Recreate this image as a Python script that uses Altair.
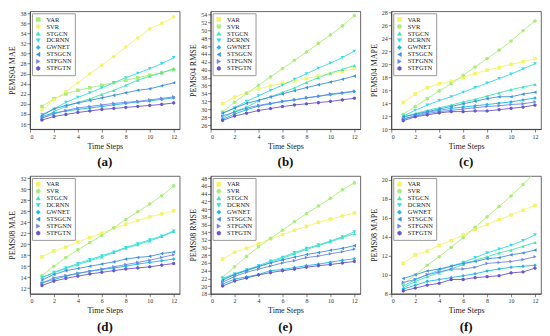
import altair as alt
import pandas as pd

STEPS = list(range(1, 13))
MODELS = ["VAR", "SVR", "STGCN", "DCRNN", "GWNET", "STSGCN", "STFGNN", "STFGTN"]

PEMS04_MAE = {
    "VAR":    [19.5, 21.0, 22.0, 22.7, 23.2, 23.7, 24.2, 24.7, 25.2, 25.7, 26.2, 26.8],
    "SVR":    [18.8, 20.8, 22.5, 24.2, 26.0, 27.7, 29.4, 31.3, 33.1, 34.9, 36.0, 37.3],
    "STGCN":  [17.0, 18.5, 19.5, 20.3, 21.0, 21.9, 22.7, 23.7, 24.7, 25.5, 26.2, 27.0],
    "DCRNN":  [17.9, 19.0, 20.3, 21.3, 22.2, 23.2, 24.2, 25.2, 26.1, 27.0, 28.0, 29.2],
    "GWNET":  [17.5, 18.2, 18.6, 18.9, 19.2, 19.5, 19.8, 20.1, 20.4, 20.6, 20.9, 21.2],
    "STSGCN": [17.7, 19.0, 19.7, 20.2, 20.7, 21.2, 21.7, 22.2, 22.7, 23.0, 23.6, 24.2],
    "STFGNN": [17.2, 18.0, 18.7, 19.2, 19.5, 19.8, 20.1, 20.3, 20.5, 20.8, 21.1, 21.4],
    "STFGTN": [16.8, 17.5, 17.9, 18.3, 18.6, 18.9, 19.1, 19.3, 19.5, 19.7, 19.9, 20.2],
}
PEMS04_RMSE = {
    "VAR":    [31.4, 33.1, 34.2, 35.2, 35.9, 36.6, 37.2, 37.8, 38.4, 39.0, 39.6, 40.4],
    "SVR":    [29.4, 31.8, 34.0, 36.1, 38.2, 40.3, 42.4, 44.5, 46.7, 48.8, 51.1, 53.7],
    "STGCN":  [27.8, 29.5, 30.5, 32.2, 33.2, 34.3, 35.4, 36.8, 38.0, 39.2, 40.1, 41.1],
    "DCRNN":  [29.0, 30.4, 32.0, 33.4, 34.8, 36.1, 37.6, 39.0, 40.4, 41.7, 43.1, 44.7],
    "GWNET":  [27.5, 28.8, 29.9, 30.8, 31.4, 32.0, 32.4, 32.9, 33.3, 33.7, 34.1, 34.5],
    "STSGCN": [29.0, 30.3, 31.5, 32.3, 33.1, 33.9, 34.7, 35.5, 36.2, 36.9, 37.6, 38.4],
    "STFGNN": [28.3, 29.3, 30.3, 31.0, 31.5, 32.0, 32.4, 32.9, 33.3, 33.9, 34.2, 34.6],
    "STFGTN": [27.2, 28.3, 29.0, 29.7, 30.2, 30.7, 31.1, 31.4, 31.7, 32.0, 32.4, 32.8],
}
PEMS04_MAPE = {
    "VAR":    [14.1, 15.4, 16.4, 17.0, 17.4, 18.0, 18.6, 19.1, 19.5, 20.0, 20.4, 20.9],
    "SVR":    [12.3, 13.5, 14.7, 15.9, 17.0, 18.3, 19.6, 20.9, 22.2, 23.6, 25.2, 26.7],
    "STGCN":  [11.8, 12.4, 12.9, 13.3, 13.7, 14.2, 14.6, 15.1, 15.6, 16.1, 16.5, 16.9],
    "DCRNN":  [12.0, 12.9, 13.7, 14.4, 15.0, 15.7, 16.4, 17.1, 17.8, 18.5, 19.3, 20.1],
    "GWNET":  [11.5, 12.1, 12.6, 12.9, 13.2, 13.4, 13.6, 13.8, 14.0, 14.2, 14.5, 14.8],
    "STSGCN": [11.9, 12.3, 12.7, 13.1, 13.5, 13.9, 14.3, 14.7, 15.0, 15.0, 15.4, 15.7],
    "STFGNN": [11.6, 12.0, 12.4, 12.7, 12.9, 13.1, 13.3, 13.5, 13.6, 13.8, 13.9, 14.2],
    "STFGTN": [11.3, 11.9, 12.2, 12.5, 12.7, 12.7, 12.8, 12.8, 13.0, 13.2, 13.4, 13.7],
}
PEMS08_MAE = {
    "VAR":    [17.7, 18.8, 19.5, 20.4, 21.2, 22.0, 22.9, 23.6, 24.3, 25.0, 25.5, 26.1],
    "SVR":    [14.3, 16.0, 17.6, 19.0, 20.3, 21.6, 23.0, 24.5, 25.9, 27.3, 28.8, 30.6],
    "STGCN":  [14.0, 14.8, 15.6, 16.3, 17.0, 17.7, 18.5, 19.3, 19.9, 20.6, 21.4, 22.3],
    "DCRNN":  [13.9, 14.9, 15.7, 16.5, 17.2, 17.9, 18.6, 19.4, 20.1, 20.8, 21.5, 22.4],
    "GWNET":  [13.0, 13.6, 14.2, 14.7, 15.1, 15.4, 15.7, 16.0, 16.4, 16.7, 17.0, 17.3],
    "STSGCN": [13.5, 14.5, 15.2, 15.6, 16.0, 16.4, 16.8, 17.3, 17.6, 17.8, 18.3, 18.6],
    "STFGNN": [12.9, 13.9, 14.3, 14.7, 15.1, 15.5, 15.9, 16.3, 16.7, 17.1, 17.6, 18.1],
    "STFGTN": [12.5, 13.3, 13.8, 14.2, 14.6, 14.9, 15.2, 15.5, 15.7, 15.9, 16.2, 16.5],
}
PEMS08_RMSE = {
    "VAR":    [27.0, 28.8, 29.8, 31.0, 32.3, 33.4, 34.5, 35.5, 36.6, 37.4, 38.2, 39.0],
    "SVR":    [22.3, 25.0, 27.7, 30.2, 32.4, 34.5, 36.7, 38.8, 40.8, 42.8, 45.0, 46.8],
    "STGCN":  [21.8, 23.0, 24.0, 25.0, 26.2, 27.2, 28.4, 29.5, 30.5, 31.5, 32.6, 33.6],
    "DCRNN":  [22.0, 23.2, 24.2, 25.3, 26.5, 27.5, 28.7, 29.8, 30.7, 31.7, 32.8, 34.1],
    "GWNET":  [20.5, 21.8, 22.4, 23.0, 24.0, 24.3, 24.8, 25.3, 25.7, 26.2, 26.7, 27.1],
    "STSGCN": [21.5, 23.0, 24.1, 25.1, 26.0, 26.8, 27.5, 28.2, 28.7, 29.3, 29.8, 30.5],
    "STFGNN": [21.0, 22.5, 23.6, 24.4, 25.2, 26.0, 26.6, 27.4, 27.8, 28.4, 28.9, 29.6],
    "STFGTN": [20.0, 21.3, 22.1, 22.9, 23.5, 24.0, 24.4, 24.9, 25.3, 25.6, 26.0, 26.4],
}
PEMS08_MAPE = {
    "VAR":    [11.2, 12.1, 12.5, 13.1, 13.6, 14.2, 14.8, 15.3, 15.8, 16.3, 16.8, 17.3],
    "SVR":    [9.0, 10.0, 11.0, 11.9, 12.9, 13.9, 15.0, 16.1, 17.2, 18.3, 19.5, 20.8],
    "STGCN":  [8.6, 9.3, 9.8, 10.2, 10.6, 11.1, 11.5, 11.9, 12.3, 12.6, 13.0, 13.4],
    "DCRNN":  [8.8, 9.5, 10.0, 10.5, 10.9, 11.3, 11.8, 12.3, 12.7, 13.1, 13.6, 14.2],
    "GWNET":  [8.5, 8.9, 9.3, 9.5, 9.7, 9.9, 10.1, 10.4, 10.6, 10.8, 10.9, 11.0],
    "STSGCN": [9.6, 10.0, 10.4, 10.6, 10.9, 11.2, 11.4, 11.7, 11.8, 12.1, 12.3, 12.6],
    "STFGNN": [9.2, 9.5, 10.0, 10.3, 10.6, 10.6, 10.8, 11.2, 11.3, 11.4, 11.6, 11.9],
    "STFGTN": [8.3, 8.6, 8.9, 9.1, 9.5, 9.5, 9.7, 9.8, 9.9, 10.2, 10.3, 10.7],
}

COLORS = ["#f4f46a", "#a8ee78", "#3fe6b2", "#35dbe6", "#1fb6e6", "#3f8fe0", "#6f86e6", "#6a56cc"]
COLORS_A = ["#a8ee78", "#f4f46a", "#3fe6b2", "#35dbe6", "#1fb6e6", "#3f8fe0", "#6f86e6", "#6a56cc"]
HEX = "M0,-1L0.866,-0.5L0.866,0.5L0,1L-0.866,0.5L-0.866,-0.5Z"
SHAPES = ["square", "circle", "triangle-up", "triangle-down", "diamond",
          "triangle-left", "triangle-right", HEX]

SERIF = "Liberation Serif"
W, H = 150, 118


def panel(data, ytitle, ydomain, yticks, label, colors):
    rows = [{"step": s, "model": m, "value": v}
            for m in MODELS for s, v in zip(STEPS, data[m])]
    df = pd.DataFrame(rows)
    legend = alt.Legend(
        title=None, orient="top-left", offset=2, padding=3,
        strokeColor="#999", fillColor="white", labelFont=SERIF,
        labelFontSize=6.5, labelColor="#222", symbolSize=18, rowPadding=0,
        labelOffset=5, symbolStrokeWidth=0.5,
    )
    return alt.Chart(df).mark_line(
        strokeWidth=0.9, clip=True,
        point=alt.OverlayMarkDef(filled=True, size=13, clip=True),
    ).encode(
        x=alt.X("step:Q", scale=alt.Scale(domain=[0, 12.5], nice=False),
                axis=alt.Axis(values=list(range(0, 13, 2)), title="Time Steps")),
        y=alt.Y("value:Q", scale=alt.Scale(domain=ydomain, nice=False, zero=False),
                axis=alt.Axis(values=yticks, title=ytitle)),
        color=alt.Color("model:N", sort=MODELS,
                        scale=alt.Scale(domain=MODELS, range=colors), legend=legend),
        shape=alt.Shape("model:N", sort=MODELS,
                        scale=alt.Scale(domain=MODELS, range=SHAPES), legend=legend),
        order=alt.Order("step:Q"),
    ).properties(
        width=W, height=H,
        title=alt.TitleParams(label, orient="bottom", font=SERIF, fontSize=13,
                              fontWeight="bold", offset=6, color="#111"),
    )


pa = panel(PEMS04_MAE, "PEMS04 MAE", [15, 38.4], list(range(16, 39, 2)), "(a)", COLORS_A)
pb = panel(PEMS04_RMSE, "PEMS04 RMSE", [25, 54.8], list(range(26, 55, 2)), "(b)", COLORS)
pc = panel(PEMS04_MAPE, "PEMS04 MAPE", [10, 28.2], list(range(10, 29, 2)), "(c)", COLORS)
pd_ = panel(PEMS08_MAE, "PEMS08 MAE", [11, 32.4], list(range(12, 33, 2)), "(d)", COLORS)
pe = panel(PEMS08_RMSE, "PEMS08 RMSE", [18, 48.6], list(range(18, 49, 2)), "(e)", COLORS)
pf = panel(PEMS08_MAPE, "PEMS08 MAPE", [8, 20.4], list(range(8, 21, 2)), "(f)", COLORS)

row1 = alt.hconcat(pa, pb, pc, spacing=8).resolve_scale(color="independent", shape="independent")
row2 = alt.hconcat(pd_, pe, pf, spacing=8).resolve_scale(color="independent", shape="independent")

chart = alt.vconcat(row1, row2, spacing=4).resolve_scale(
    color="independent", shape="independent"
).properties(
    padding={"left": 0, "top": 0, "right": 0, "bottom": 0}, background="white"
).configure_view(
    stroke="#444", strokeWidth=0.8
).configure_axis(
    labelFont=SERIF, titleFont=SERIF, labelFontSize=6, titleFontSize=8,
    titleFontWeight="normal", labelColor="#333", titleColor="#222",
    domainColor="#333", tickColor="#333", tickSize=3, grid=False,
    labelPadding=1, titlePadding=3, domainWidth=0.8, tickWidth=0.6,
)

chart.save("out.html", embed_options={"renderer": "svg", "actions": False})
